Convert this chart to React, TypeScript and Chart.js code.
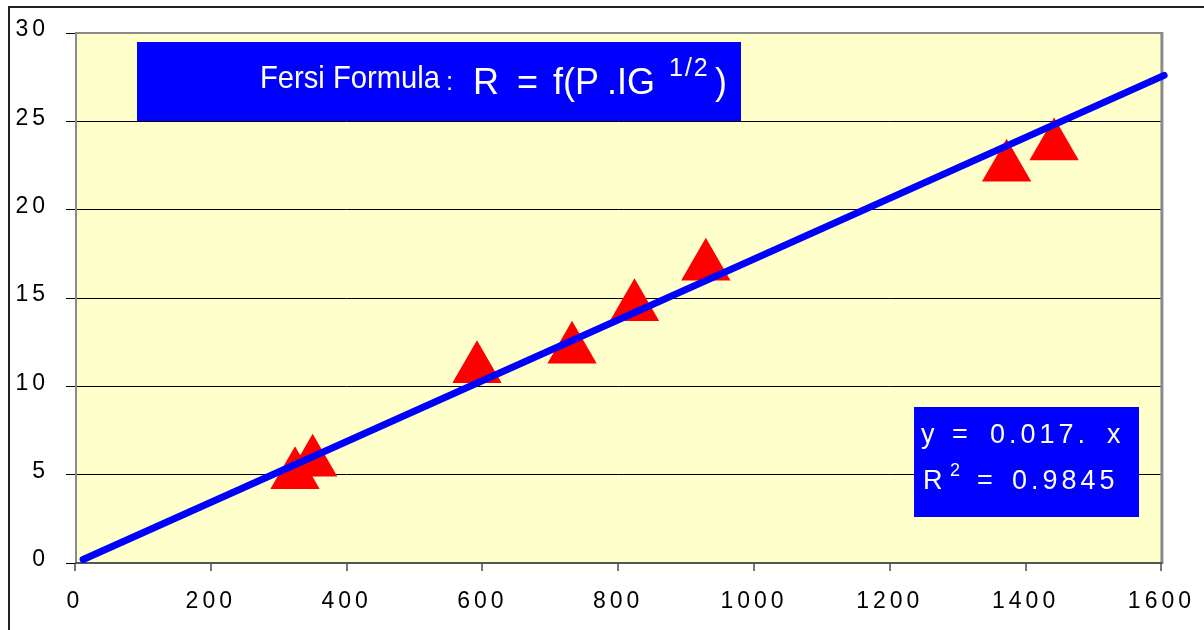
import React, { useEffect, useRef } from 'react';
import { Chart, registerables } from 'chart.js';

Chart.register(...registerables);

// ---- data ----
const pointX = [324, 350, 592, 732, 824, 929, 1372, 1442];
const pointY = [5.0, 5.7, 11.0, 12.1, 14.5, 16.8, 22.4, 23.6];
const trendX = [12, 1604];
const trendY = [0.2, 27.6];
const xRange = [0, 1600];
const xStep = [200];
const yRange = [0, 30];
const yStep = [5];
const titleParts = ['Fersi Formula', ':', 'R', '=', 'f(P', '.IG', '1/2', ')'];
const eqLine1 = ['y', '=', '0.017.', 'x'];
const eqLine2 = ['R', '2', '=', '0.9845'];

const FONT = '"Liberation Sans", Arial, sans-serif';

const decoPlugin = {
  id: 'deco',
  beforeDraw(chart: any) {
    const { ctx, chartArea: a } = chart;
    ctx.save();
    ctx.fillStyle = '#ffffff';
    ctx.fillRect(0, 0, chart.width, chart.height);
    ctx.fillStyle = '#222222';
    ctx.fillRect(8, 6, chart.width, 2);
    ctx.fillRect(8, 6, 2, chart.height);
    ctx.fillStyle = '#FFFFCC';
    ctx.fillRect(a.left, a.top, a.right - a.left, a.bottom - a.top);
    ctx.restore();
    ctx.letterSpacing = '4px';
  },
  beforeDatasetsDraw(chart: any) {
    const { ctx, chartArea: a } = chart;
    ctx.save();
    ctx.fillStyle = '#8a8a8a';
    ctx.fillRect(a.left, a.top - 1, a.right - a.left, 2);
    ctx.fillRect(a.left, a.top - 1, 2, a.bottom - a.top + 1);
    ctx.fillRect(a.right - 1, a.top - 1, 3, a.bottom - a.top + 2);
    ctx.fillStyle = '#555555';
    ctx.fillRect(a.left, a.bottom - 1, a.right - a.left + 1, 2);
    ctx.restore();
  },
  afterDraw(chart: any) {
    const { ctx } = chart;
    ctx.save();
    ctx.letterSpacing = '0px';
    ctx.textBaseline = 'alphabetic';
    ctx.textAlign = 'left';
    // title box
    ctx.fillStyle = '#0000FF';
    ctx.fillRect(137, 42, 604, 79);
    ctx.fillStyle = '#ffffff';
    ctx.font = `32px ${FONT}`;
    ctx.fillText(titleParts[0], 260, 88, 180);
    ctx.font = `26px ${FONT}`;
    ctx.fillText(titleParts[1], 446, 90);
    ctx.font = `36px ${FONT}`;
    ctx.fillText(titleParts[2], 473, 94);
    ctx.fillText(titleParts[3], 517, 94);
    ctx.fillText(titleParts[4], 553, 94);
    ctx.fillText(titleParts[5], 607, 94);
    ctx.letterSpacing = '2px';
    ctx.font = `25px ${FONT}`;
    ctx.fillText(titleParts[6], 669, 76);
    ctx.letterSpacing = '0px';
    ctx.font = `36px ${FONT}`;
    ctx.fillText(titleParts[7], 715, 94);

    // equation box
    ctx.fillStyle = '#0000FF';
    ctx.fillRect(914, 407, 225, 110);
    ctx.fillStyle = '#ffffff';
    ctx.letterSpacing = '4px';
    ctx.font = `27px ${FONT}`;
    ctx.fillText(eqLine1[0], 921, 443);
    ctx.fillText(eqLine1[1], 952, 443);
    ctx.fillText(eqLine1[2], 990, 443);
    ctx.fillText(eqLine1[3], 1107, 443);
    ctx.fillText(eqLine2[0], 923, 489);
    ctx.fillText(eqLine2[2], 977, 489);
    ctx.fillText(eqLine2[3], 1012, 489);
    ctx.font = `18px ${FONT}`;
    ctx.fillText(eqLine2[1], 950, 476);
    ctx.restore();
  },
};

export default function App() {
  const ref = useRef<HTMLCanvasElement>(null);
  useEffect(() => {
    if (!ref.current) return;
    const chart = new Chart(ref.current, {
      type: 'scatter',
      data: {
        datasets: [
          {
            type: 'line',
            data: trendX.map((x, i) => ({ x, y: trendY[i] })),
            borderColor: '#0000FF',
            borderWidth: 7,
            borderCapStyle: 'round',
            pointRadius: 0,
            fill: false,
            clip: false,
          } as any,
          {
            data: pointX.map((x, i) => ({ x, y: pointY[i] })),
            pointStyle: 'triangle',
            pointRadius: 28.5,
            backgroundColor: '#FF0000',
            borderWidth: 0,
          },
        ],
      },
      options: {
        responsive: false,
        animation: false,
        layout: { padding: { top: 33, right: 39, left: 0, bottom: 0 } },
        plugins: { legend: { display: false }, tooltip: { enabled: false } },
        scales: {
          x: {
            type: 'linear',
            min: xRange[0],
            max: xRange[1],
            afterFit: (s: any) => { s.height = 67; },
            border: { display: false },
            grid: { drawOnChartArea: false, drawTicks: true, tickLength: 8, tickColor: '#777777', lineWidth: 2 },
            ticks: {
              stepSize: xStep[0], color: '#000', padding: 17, font: { size: 23, family: FONT }, maxRotation: 0,
              callback: (v: any) => String(v),
            },
          },
          y: {
            type: 'linear',
            min: yRange[0],
            max: yRange[1],
            afterFit: (s: any) => { s.width = 75; },
            border: { display: false },
            grid: { color: '#000000', lineWidth: 1, tickLength: 9, tickColor: '#000000' },
            ticks: {
              stepSize: yStep[0], color: '#000', padding: 17, labelOffset: -3, font: { size: 23, family: FONT },
              callback: (v: any) => String(v),
            },
          },
        },
      },
      plugins: [decoPlugin],
    });
    return () => chart.destroy();
  }, []);
  return (
    <div style={{ position: 'absolute', left: 0, top: 0, width: 1204, height: 630 }}>
      <canvas ref={ref} width={1204} height={630} style={{ display: 'block' }} />
    </div>
  );
}
